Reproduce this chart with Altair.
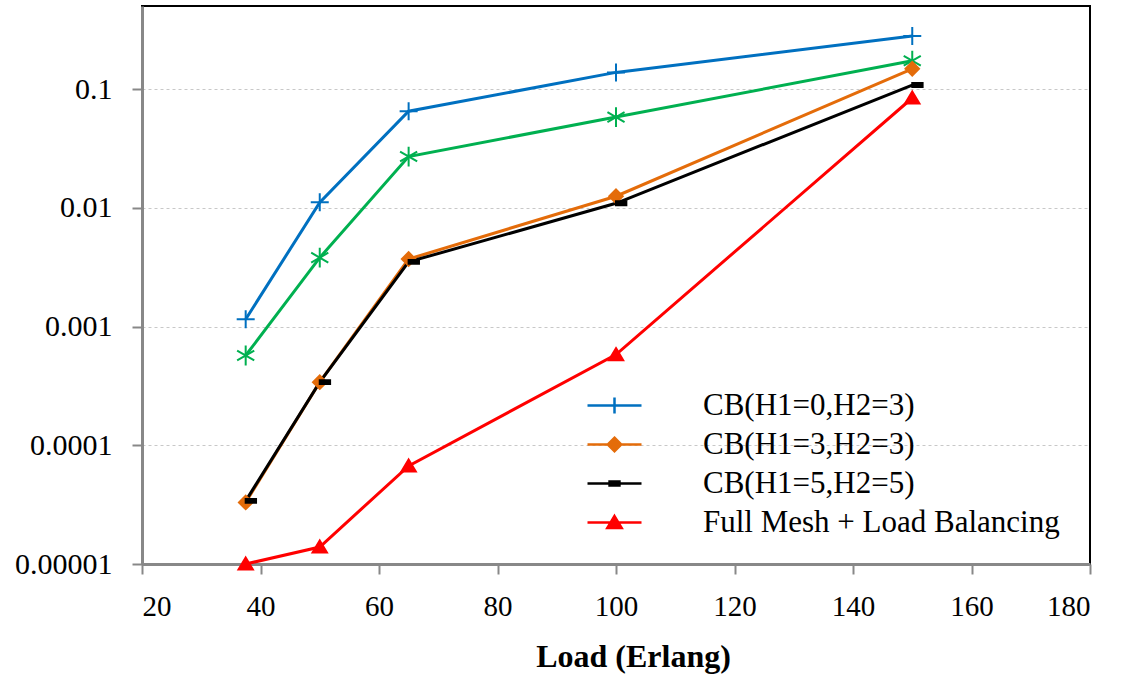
import altair as alt
import pandas as pd

# ---- data ----
load = [37.5, 50, 65, 100, 150]

name_cb03 = "CB(H1=0,H2=3)"
name_star = "CB (unlabelled green series)"
name_cb33 = "CB(H1=3,H2=3)"
name_cb55 = "CB(H1=5,H2=5)"
name_fm = "Full Mesh + Load Balancing"

cb03 = [0.00115, 0.0111, 0.065, 0.138, 0.28]
star = [0.00057, 0.0038, 0.027, 0.058, 0.173]
cb33 = [0.000033, 0.00034, 0.0037, 0.0125, 0.148]
cb55 = [0.000034, 0.00034, 0.0035, 0.0109, 0.108]
fm = [0.00001, 0.0000139, 0.000067, 0.00058, 0.084]

y_ticks = [0.00001, 0.0001, 0.001, 0.01, 0.1]
x_ticks = [20, 40, 60, 80, 100, 120, 140, 160, 180]

order_all = [name_cb03, name_star, name_cb33, name_cb55, name_fm]
legend_order = [name_cb03, name_cb33, name_cb55, name_fm]

rows = []
for nm, vals in zip(order_all, [cb03, star, cb33, cb55, fm]):
    for x, v in zip(load, vals):
        rows.append({"load": x, "value": v, "series": nm})
df = pd.DataFrame(rows)

# ---- styling ----
colors_all = ["#0070C0", "#00B050", "#E46C0A", "#000000", "#FF0000"]
colors_leg = ["#0070C0", "#E46C0A", "#000000", "#FF0000"]

shapes_all = [
    "M-1,0H1M0,-1V1",
    "M0,-1.1V1.1M-0.95,-0.55L0.95,0.55M-0.95,0.55L0.95,-0.55",
    "M0,-0.75L0.75,0L0,0.75L-0.75,0Z",
    "M0,-0.22H1.15V0.22H0Z",
    "M0,-0.72L0.8,0.62L-0.8,0.62Z",
]
shapes_leg = [
    "M-3,0H3M0,-0.9V0.9",
    "M-3,0H3M0,-0.75L0.75,0L0,0.75L-0.75,0Z",
    "M-3,0H3M-0.55,-0.22H0.55V0.22H-0.55Z",
    "M-3,0H3M0,-0.72L0.8,0.62L-0.8,0.62Z",
]

FONT = "Liberation Serif"

x_enc = alt.X(
    "load:Q",
    scale=alt.Scale(domain=[20, 180], nice=False, zero=False),
    axis=alt.Axis(
        values=x_ticks, title="Load (Erlang)", grid=False,
        labelPadding=18, titlePadding=20, titleX=491, titleAnchor="start",
        titleAlign="center",
    ),
)
y_enc = alt.Y(
    "value:Q",
    scale=alt.Scale(type="log", domain=[0.00001, 0.5], nice=False),
    axis=alt.Axis(
        values=y_ticks, format="~g", title=None, grid=True,
        gridDash=[3, 3], gridColor="#c8c8c8", gridWidth=1, labelPadding=20,
        labelFontSize=30,
    ),
)

base = alt.Chart(df)

lines = base.mark_line(strokeWidth=3).encode(
    x=x_enc,
    y=y_enc,
    color=alt.Color("series:N", scale=alt.Scale(domain=order_all, range=colors_all), legend=None),
    order=alt.Order("load:Q"),
)

points = base.mark_point(filled=True, size=324, strokeWidth=2, opacity=1).encode(
    x=x_enc,
    y=y_enc,
    shape=alt.Shape("series:N", scale=alt.Scale(domain=order_all, range=shapes_all), legend=None),
    fill=alt.Fill("series:N", scale=alt.Scale(domain=order_all, range=colors_all), legend=None),
    stroke=alt.Stroke("series:N", scale=alt.Scale(domain=order_all, range=colors_all), legend=None),
)

leg = alt.Legend(
    orient="none", legendX=457, legendY=384, padding=0,
    labelFont=FONT, labelFontSize=31, labelColor="black", labelLimit=700,
    labelOffset=73, rowPadding=7, symbolSize=324, symbolStrokeWidth=2.5,
    symbolOpacity=1,
)

legend_layer = base.transform_filter(
    alt.FieldOneOfPredicate(field="series", oneOf=legend_order)
).mark_point(filled=True, size=1, opacity=0).encode(
    x=x_enc,
    y=y_enc,
    shape=alt.Shape("series:N", title=None, scale=alt.Scale(domain=legend_order, range=shapes_leg), legend=leg),
    fill=alt.Fill("series:N", title=None, scale=alt.Scale(domain=legend_order, range=colors_leg), legend=leg),
    stroke=alt.Stroke("series:N", title=None, scale=alt.Scale(domain=legend_order, range=colors_leg), legend=leg),
)

chart = (
    alt.layer(lines, points, legend_layer)
    .resolve_scale(fill="independent", stroke="independent", shape="independent")
    .properties(
        width=948, height=558,
        autosize=alt.AutoSizeParams(type="none"),
        padding={"left": 142, "top": 6, "right": 38, "bottom": 117},
        background="white",
    )
    .configure_view(stroke="black", strokeWidth=2)
    .configure_axis(
        domainColor="#888888", domainWidth=3,
        tickColor="#888888", tickWidth=2, tickSize=10,
        labelFont=FONT, labelFontSize=29, labelColor="black",
        titleFont=FONT, titleFontSize=32, titleFontWeight="bold", titleColor="black",
    )
)

chart.save("out.html", embed_options={"renderer": "svg", "actions": False})
